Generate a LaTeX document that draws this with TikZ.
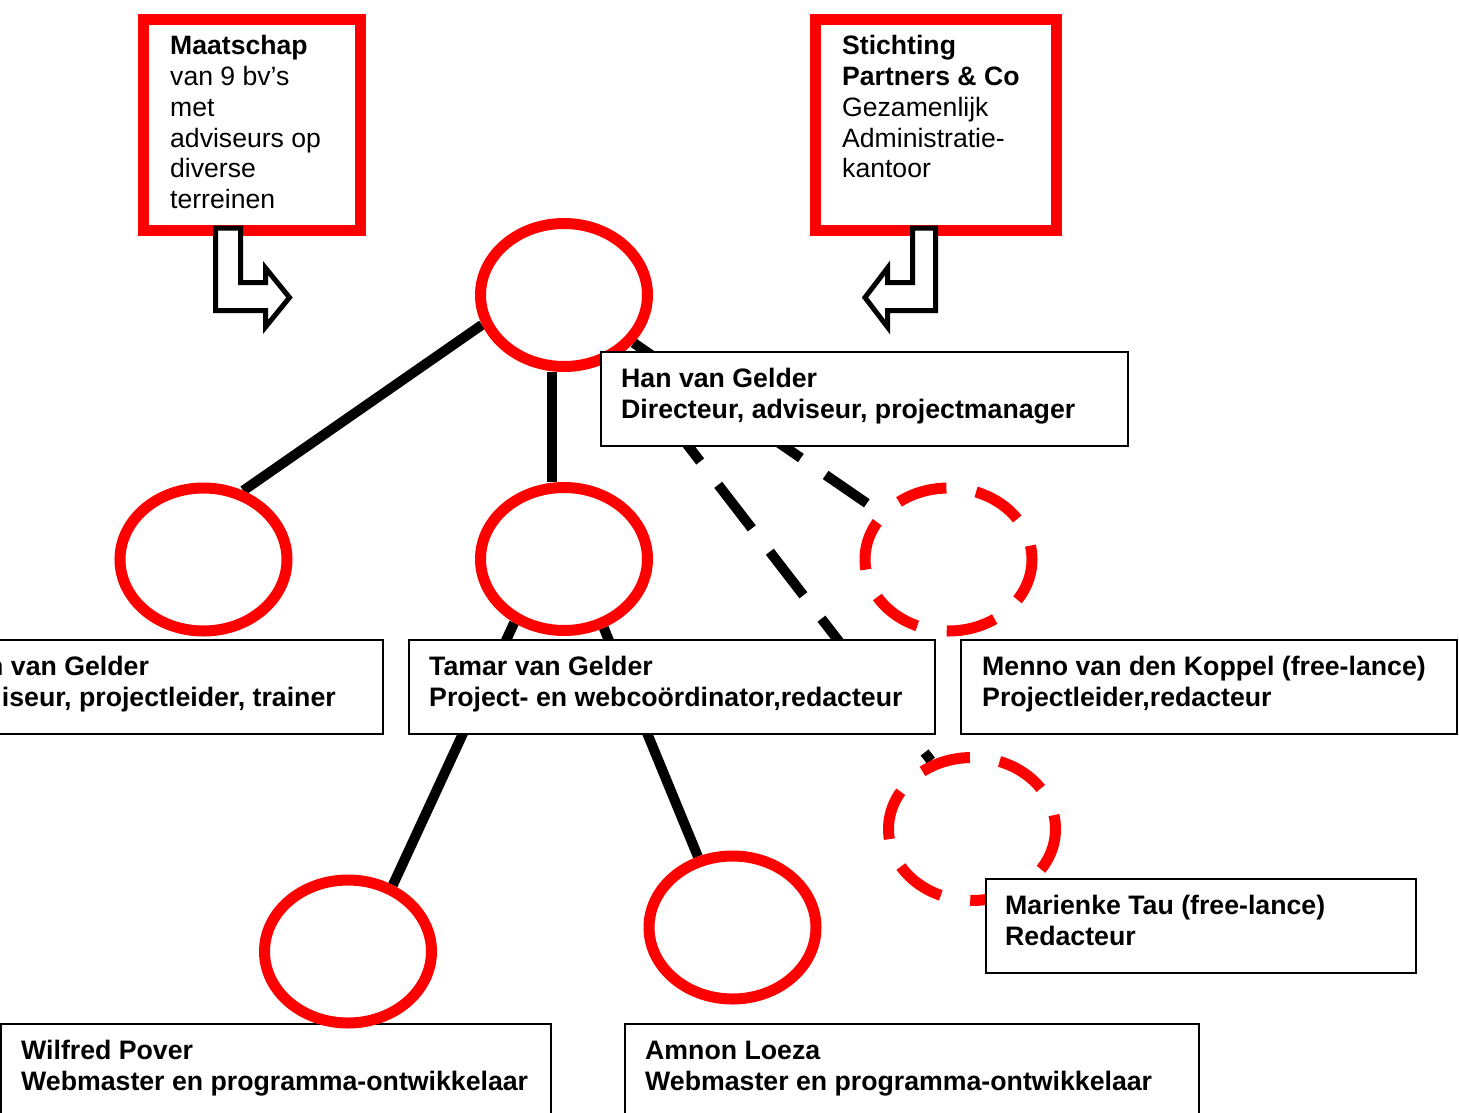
\documentclass[tikz,border=0pt]{standalone}
\usepackage{fontspec}
\setmainfont{Liberation Sans}
\usetikzlibrary{shapes.geometric,backgrounds,calc}
\definecolor{orgred}{RGB}{255,0,0}

\tikzset{
  member/.style={ellipse, draw=orgred, line width=11pt, fill=white,
    minimum width=167pt, minimum height=143pt, inner sep=0pt},
  guest/.style={member, dash pattern=on 50pt off 30pt, dash phase=36pt},
  rolebox/.style={rectangle, draw=black, line width=2pt, fill=white,
    inner sep=0pt, anchor=north west},
  partner/.style={rectangle, draw=orgred, line width=11pt, fill=white,
    inner sep=0pt, anchor=north west},
  roletext/.style={anchor=base west, inner sep=0pt,
    font=\bfseries\fontsize{26.7}{31}\selectfont},
  introtext/.style={anchor=base west, inner sep=0pt,
    font=\fontsize{26.6}{30.75}\selectfont},
  tie/.style={line width=10pt, black},
  loosetie/.style={tie, dash pattern=on 55pt off 29.5pt},
  bentarrow/.style={draw=black, line width=5pt, fill=white, line join=miter},
}

\newcommand{\rows}[1]{\begin{tabular}[t]{@{}l@{}}#1\end{tabular}}

\begin{document}
\begin{tikzpicture}[x=1pt,y=-1pt]
\useasboundingbox (0,0) rectangle (1459,1113);

% partner organisations
\node[partner, minimum width=217pt, minimum height=211pt] (maat) at (138,14) {};
\node[partner, minimum width=241pt, minimum height=211pt] (stich) at (810,14) {};
\node[introtext] (maattext) at (170,55)
  {\rows{\textbf{Maatschap}\\van 9 bv’s\\met\\adviseurs op\\diverse\\terreinen}};
\node[introtext] (stichtext) at (842,55)
  {\rows{\textbf{Stichting}\\\textbf{Partners \& Co}\\Gezamenlijk\\Administratie-\\kantoor}};

% bent arrows below the partner boxes
\draw[bentarrow] (215.5,228) -- (240.5,228) -- (240.5,282.5) -- (265.5,282.5)
  -- (265.5,268) -- (289.5,297.5) -- (265.5,327) -- (265.5,310.5)
  -- (215.5,310.5) -- cycle;
\draw[bentarrow] (935.5,228) -- (912.5,228) -- (912.5,282.5) -- (887.5,282.5)
  -- (887.5,268) -- (865,297.5) -- (887.5,327) -- (887.5,310.5)
  -- (935.5,310.5) -- cycle;

% box lying under its ellipse
\node[rolebox, minimum width=550pt, minimum height=115pt] (wilbox) at (0,1023) {};

% people
\node[member] (top) at (564,295) {};
\node[member] (lm)  at (203.5,559.5) {};
\node[member] (mid) at (564,559) {};
\node[guest]  (men) at (948.5,559.5) {};
\node[guest]  (mar) at (972,829) {};
\node[member] (wil) at (348,951.5) {};
\node[member] (amn) at (732.5,927.5) {};

% connectors
\begin{scope}[on background layer]
  \draw[tie] (top.200) -- (lm.60);
  \draw[tie] ($(top.south)+(-12,0)$) -- ($(mid.north)+(-12,0)$);
  \draw[tie] (mid.232) -- (wil.56);
  \draw[tie] (mid.-60) -- (amn.116);
  \draw[loosetie, dash phase=6pt] (top.-48) -- (mar.121);
  \draw[loosetie, dash pattern=on 50pt off 30pt, dash phase=7pt] (top) -- (men);
\end{scope}

% role boxes
\node[rolebox, minimum width=527pt, minimum height=94pt] (hanbox) at (600,351) {};
\node[rolebox, minimum width=402pt, minimum height=94pt] (lftbox) at (-20,639) {};
\node[rolebox, minimum width=526pt, minimum height=94pt] (tambox) at (408,639) {};
\node[rolebox, minimum width=496pt, minimum height=94pt] (menbox) at (960,639) {};
\node[rolebox, minimum width=430pt, minimum height=94pt] (marbox) at (985,878) {};
\node[rolebox, minimum width=574pt, minimum height=115pt] (amnbox) at (624,1023) {};

% role texts
\node[roletext] (hantext) at (621,387)
  {\rows{Han van Gelder\\Directeur, adviseur, projectmanager}};
\node[roletext] (lfttext1) at (-13,675) {n van Gelder};
\node[roletext] (lfttext2) at (1.7,706) {iseur, projectleider, trainer};
\node[roletext] (tamtext) at (429,675)
  {\rows{Tamar van Gelder\\Project- en webcoördinator,redacteur}};
\node[roletext] (mentext) at (982,675)
  {\rows{Menno van den Koppel (free-lance)\\Projectleider,redacteur}};
\node[roletext] (martext) at (1005,914)
  {\rows{Marienke Tau (free-lance)\\Redacteur}};
\node[roletext] (wiltext) at (21,1059)
  {\rows{Wilfred Pover\\Webmaster en programma-ontwikkelaar}};
\node[roletext] (amntext) at (645,1059)
  {\rows{Amnon Loeza\\Webmaster en programma-ontwikkelaar}};
\end{tikzpicture}
\end{document}
